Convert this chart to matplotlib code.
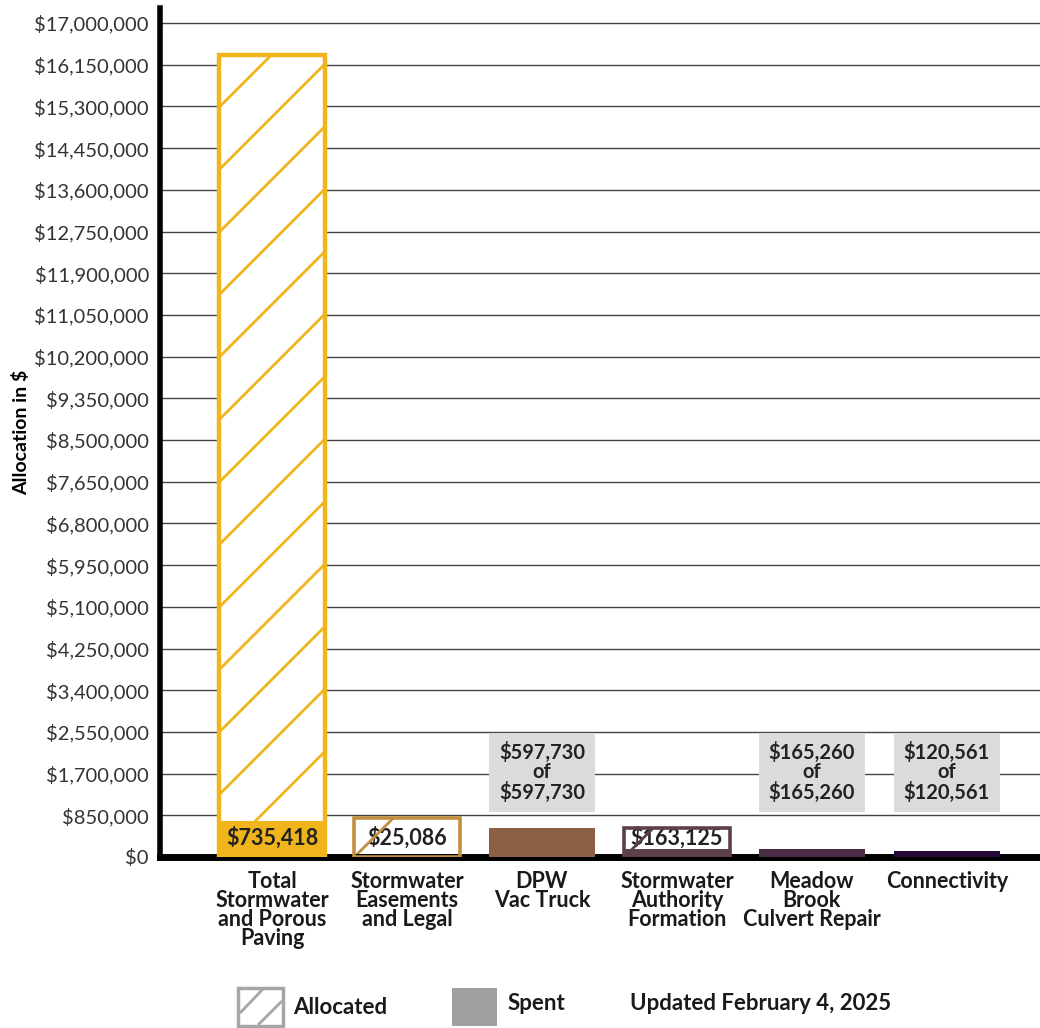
import numpy as np
import matplotlib
matplotlib.use("Agg")
import matplotlib.pyplot as plt
from matplotlib.patches import Rectangle
from matplotlib.ticker import FuncFormatter

plt.rcParams['font.family'] = ['Lato', 'DejaVu Sans']

categories = ["Total\nStormwater\nand Porous\nPaving", "Stormwater\nEasements\nand Legal",
              "DPW\nVac Truck", "Stormwater\nAuthority\nFormation",
              "Meadow\nBrook\nCulvert Repair", "Connectivity"]
allocated = [16350000, 800000, 597730, 590000, 165260, 120561]
spent = [735418, 25086, 597730, 163125, 165260, 120561]
colors = ['#F0B41C', '#C0903F', '#8B6044', '#5E4049', '#4B2D47', '#26083A']
fully_spent = [False, False, True, False, True, True]

fig = plt.figure(figsize=(10.4, 10.28), dpi=100)
ax = fig.add_axes([160/1040, 1-857/1028, 880/1040, (857-8)/1028])

x = np.arange(len(categories))
width = 0.78
ax.set_xlim(-0.83, 5.69)
ax.set_ylim(0, 17306000)
ax.set_yticks(np.arange(0, 17000001, 850000))
ax.yaxis.set_major_formatter(FuncFormatter(lambda v, p: f"${v:,.0f}"))
ax.tick_params(axis='y', length=0, labelsize=14.5, labelcolor='#333333', pad=8)
ax.tick_params(axis='x', length=0, labelsize=15.5, pad=10)
ax.set_xticks(x)
ax.set_xticklabels(categories, fontweight='bold', linespacing=0.88, color='#1a1a1a')
ax.grid(axis='y', color='#444444', linewidth=1.0, zorder=0)
ax.set_axisbelow(True)
for s in ['top', 'right']:
    ax.spines[s].set_visible(False)
ax.spines['left'].set_linewidth(4)
ax.spines['bottom'].set_linewidth(5)
ax.set_ylabel("Allocation in $", fontweight='bold', fontsize=14, labelpad=3)

# spent fills
ax.bar(x, spent, width=width, color=colors, zorder=3)


def hatch_lines(patch, color, lw, spacing):
    # diagonal lines at 45 degrees in pixel space, one through the bottom-left corner
    bb = patch.get_window_extent(renderer=fig.canvas.get_renderer())
    x0, y0, x1, y1 = bb.x0, bb.y0, bb.x1, bb.y1
    inv = ax.transData.inverted()
    for k in range(0, 60):
        off = -spacing * k
        xs = np.array([x0 - 5, x1 + 5])
        ys = y0 + (xs - x0) - off
        if ys.min() > y1:
            break
        pts = inv.transform(np.column_stack([xs, ys]))
        ln, = ax.plot(pts[:, 0], pts[:, 1], color=color, lw=lw, zorder=2.5,
                      solid_capstyle='butt')
        ln.set_clip_path(patch)


fig.canvas.draw()
for i in range(len(categories)):
    if fully_spent[i]:
        continue
    lw_edge = 3.2 if i == 0 else 2.6
    inner = Rectangle((x[i] - width/2, 0), width, allocated[i], facecolor='white',
                      edgecolor='none', zorder=2)
    ax.add_patch(inner)
    hatch_lines(inner, colors[i], 2.0, 62.5 if i == 0 else 400)
    ax.bar(x[i], spent[i], width=width, color=colors[i], zorder=3)
    ax.add_patch(Rectangle((x[i] - width/2, 0), width, allocated[i], facecolor='none',
                           edgecolor=colors[i], linewidth=lw_edge, zorder=4))

# spent labels for partially spent bars
label_y = 390000
ax.text(x[0], label_y, f"${spent[0]:,}", ha='center', va='center', fontsize=15.5,
        fontweight='bold', color='#222222', zorder=5)
for i in [1, 3]:
    ax.text(x[i], label_y, f"${spent[i]:,}", ha='center', va='center', fontsize=15.5,
            fontweight='bold', color='#222222', zorder=2.4,
            bbox=dict(facecolor='white', edgecolor='none', pad=0.8))

# grey boxes for fully spent bars
for i in range(len(categories)):
    if not fully_spent[i]:
        continue
    ax.add_patch(Rectangle((x[i] - width/2, 920000), width, 1610000, facecolor='#DADBDD',
                           edgecolor='none', zorder=3))
    ax.text(x[i], 1725000, f"${spent[i]:,}\nof\n${allocated[i]:,}", ha='center', va='center',
            fontsize=14.5, fontweight='bold', color='#222222', linespacing=0.95, zorder=5)

# legend
def fig_px(xp, yp):
    return xp / 1040, 1 - yp / 1028

leg_box = Rectangle(fig_px(238, 1026), 45/1040, 38/1028, transform=fig.transFigure,
                    facecolor='white', edgecolor='#A6A6A6', linewidth=2.5)
fig.patches.append(leg_box)
for (xa, ya, xb, yb) in [(241, 1012, 262, 990), (259, 1024, 281, 1002)]:
    fig.add_artist(plt.Line2D([xa/1040, xb/1040], [1-ya/1028, 1-yb/1028],
                              transform=fig.transFigure, color='#A6A6A6', lw=2))
fig.patches.append(Rectangle(fig_px(452, 1026), 45/1040, 38/1028, transform=fig.transFigure,
                             facecolor='#A0A0A0', edgecolor='none'))
fig.text(*fig_px(293, 1007), "Allocated", fontsize=16, fontweight='bold', va='center',
         color='#1a1a1a')
fig.text(*fig_px(508, 1004), "Spent", fontsize=16, fontweight='bold', va='center',
         color='#1a1a1a')
fig.text(*fig_px(630, 1004), "Updated February 4, 2025", fontsize=16, fontweight='bold',
         va='center', color='#1a1a1a')

fig.savefig("out.png", dpi=100)
